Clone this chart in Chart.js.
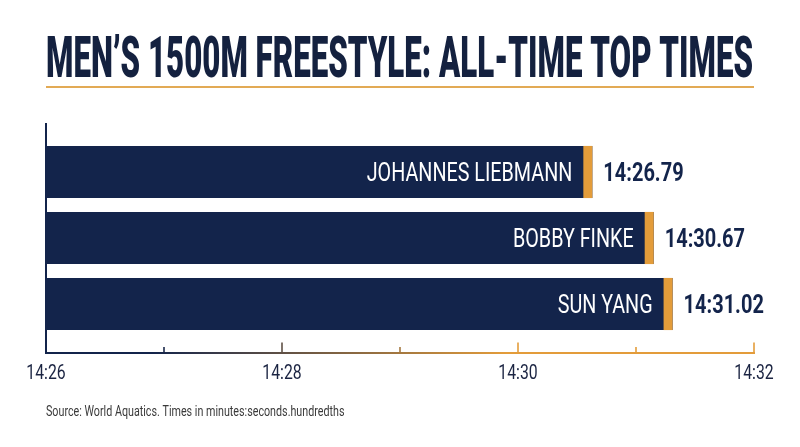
<!DOCTYPE html>
<html>
<head>
<meta charset="utf-8">
<script src="https://cdn.jsdelivr.net/npm/chart.js@4.4.1/dist/chart.umd.min.js"></script>
<style>
  html, body { margin: 0; padding: 0; background: #ffffff; }
  #wrap { position: relative; width: 800px; height: 447px; }
</style>
</head>
<body>
<div id="wrap"><canvas id="c"></canvas></div>
<script>
// ---- data ----
const titleText = 'MEN\u2019S 1500M FREESTYLE: ALL-TIME TOP TIMES';
const sourceText = 'Source: World Aquatics. Times in minutes:seconds.hundredths';
const swimmers = ['JOHANNES LIEBMANN', 'BOBBY FINKE', 'SUN YANG'];
// bar end positions as drawn, in seconds (14:26 = 866 s)
const barEnds = [870.63, 871.15, 871.31];
const timeLabels = ['14:26.79', '14:30.67', '14:31.02'];
const axisMin = 866;
const axisMax = 872;
const majorTicks = [866, 868, 870, 872];
const majorTickLabels = ['14:26', '14:28', '14:30', '14:32'];
const minorTicks = [867, 869, 871];

// ---- styles ----
const NAVY = '#13244b';
const ORANGE = '#e39c3a';
const TITLE_NAVY = '#14213f';

function condText(ctx, text, x, y, font, color, align, sx) {
  ctx.save();
  ctx.font = font;
  ctx.fillStyle = color;
  ctx.textAlign = align;
  ctx.textBaseline = 'alphabetic';
  ctx.translate(x, y);
  ctx.scale(sx, 1);
  ctx.fillText(text, 0, 0);
  ctx.restore();
}

const decor = {
  id: 'decor',
  afterDatasetsDraw(chart) {
    const ctx = chart.ctx;
    const xs = chart.scales.x;
    const meta = chart.getDatasetMeta(0);

    // orange caps + labels
    meta.data.forEach((el, i) => {
      const h = el.height;
      const top = el.y - h / 2;
      ctx.save();
      ctx.fillStyle = ORANGE;
      ctx.fillRect(el.x - 9, top, 9, h);
      ctx.restore();
      condText(ctx, swimmers[i], el.x - 20, el.y + 9, '400 25px Roboto', '#ffffff', 'right', 0.79);
      condText(ctx, timeLabels[i], el.x + 11, el.y + 9, '700 25px Roboto', NAVY, 'left', 0.80);
    });

    // y axis line
    const x0 = xs.getPixelForValue(axisMin);
    const x1 = xs.getPixelForValue(axisMax);
    const baseY = 353;
    ctx.save();
    ctx.strokeStyle = NAVY;
    ctx.lineWidth = 2;
    ctx.beginPath();
    ctx.moveTo(x0, 123);
    ctx.lineTo(x0, baseY + 1);
    ctx.stroke();

    // x axis line with gradient
    const g = ctx.createLinearGradient(x0, 0, x1, 0);
    g.addColorStop(0, NAVY);
    g.addColorStop(0.15, NAVY);
    g.addColorStop(0.65, ORANGE);
    g.addColorStop(1, ORANGE);
    ctx.strokeStyle = g;
    ctx.beginPath();
    ctx.moveTo(x0 - 1, baseY);
    ctx.lineTo(x1 + 1, baseY);
    ctx.stroke();
    ctx.lineWidth = 1.6;
    majorTicks.forEach(v => {
      const px = Math.round(xs.getPixelForValue(v));
      ctx.beginPath();
      ctx.moveTo(px, baseY);
      ctx.lineTo(px, baseY - 10.5);
      ctx.stroke();
    });
    minorTicks.forEach(v => {
      const px = Math.round(xs.getPixelForValue(v));
      ctx.beginPath();
      ctx.moveTo(px, baseY);
      ctx.lineTo(px, baseY - 6);
      ctx.stroke();
    });
    ctx.restore();

    majorTicks.forEach((v, i) => {
      condText(ctx, majorTickLabels[i], xs.getPixelForValue(v), 379, '400 19.5px Roboto', '#1b2442', 'center', 0.81);
    });

    // title
    ctx.save();
    ctx.font = '900 58px Roboto';
    const tw = ctx.measureText(titleText).width;
    ctx.restore();
    condText(ctx, titleText, 46, 77, '900 58px Roboto', TITLE_NAVY, 'left', 707 / tw);

    // rule under title
    ctx.save();
    ctx.fillStyle = '#e2aa55';
    ctx.fillRect(46, 86, 708, 2);
    ctx.restore();

    // source
    condText(ctx, sourceText, 46, 416, '400 15px Roboto', '#3a3a3a', 'left', 0.715);
  }
};

new Chart(document.getElementById('c'), {
  type: 'bar',
  data: {
    labels: swimmers,
    datasets: [{
      data: barEnds.map(v => [axisMin, v]),
      backgroundColor: NAVY,
      borderWidth: 0,
      barPercentage: 0.79,
      categoryPercentage: 1
    }]
  },
  options: {
    indexAxis: 'y',
    responsive: true,
    maintainAspectRatio: false,
    animation: false,
    events: [],
    layout: { padding: { left: 46, right: 46, top: 139, bottom: 110 } },
    plugins: { legend: { display: false }, tooltip: { enabled: false }, title: { display: false } },
    scales: {
      x: { type: 'linear', min: axisMin, max: axisMax, display: false },
      y: { display: false }
    }
  },
  plugins: [decor]
});
</script>
</body>
</html>
